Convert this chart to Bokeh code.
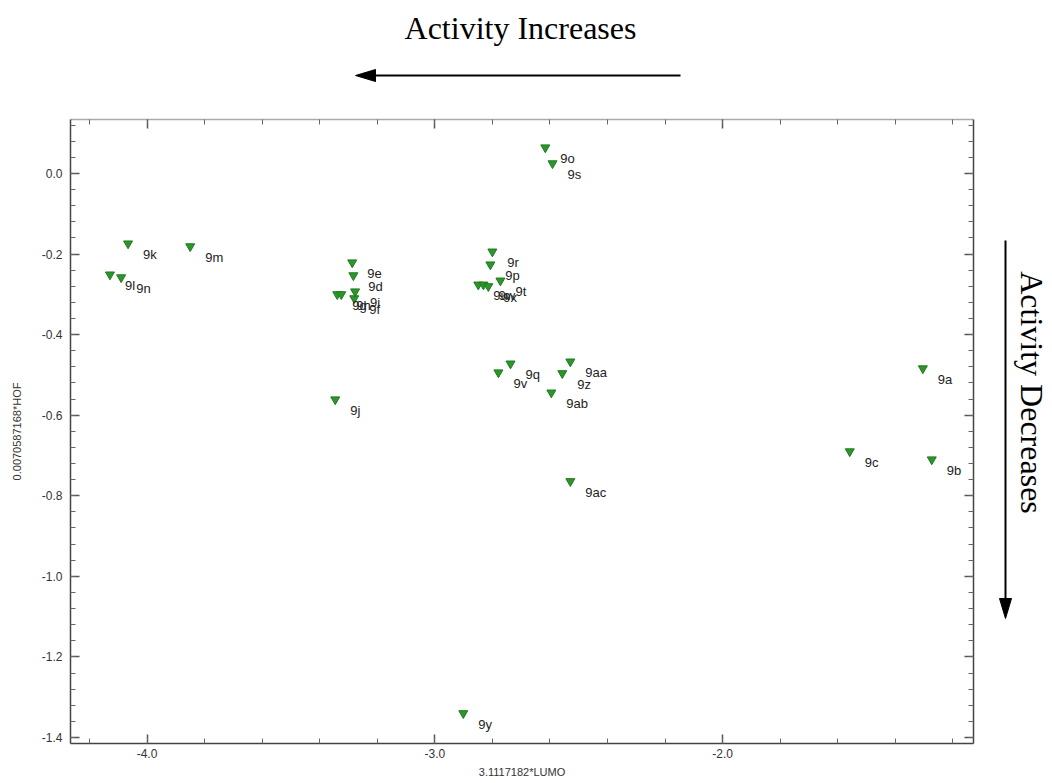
import math
import numpy as np
from bokeh.plotting import figure
from bokeh.layouts import row, column
from bokeh.models import (Range1d, LinearAxis, FixedTicker, PrintfTickFormatter,
                          CustomJSTickFormatter, ColumnDataSource)
from bokeh.core.properties import value
from bokeh.embed import file_html
from bokeh.resources import INLINE

# ---- data ----
compounds = ["9a", "9b", "9c", "9d", "9e", "9f", "9g", "9h", "9i", "9j",
             "9k", "9l", "9m", "9n", "9o", "9p", "9q", "9r", "9s", "9t",
             "9u", "9v", "9w", "9x", "9y", "9z", "9aa", "9ab", "9ac"]
lumo_term = [-1.304, -1.273, -1.558, -3.283, -3.287, -3.280, -3.339, -3.325, -3.277, -3.346,
             -4.066, -4.129, -3.850, -4.090, -2.616, -2.807, -2.737, -2.800, -2.591, -2.772,
             -2.849, -2.779, -2.831, -2.814, -2.901, -2.557, -2.529, -2.595, -2.529]
hof_term = [-0.484, -0.710, -0.690, -0.253, -0.221, -0.310, -0.300, -0.300, -0.293, -0.561,
            -0.174, -0.251, -0.181, -0.258, 0.0645, -0.226, -0.472, -0.194, 0.025, -0.266,
            -0.276, -0.494, -0.276, -0.280, -1.340, -0.496, -0.467, -0.544, -0.764]

x_ticks = [-4.0, -3.0, -2.0]
y_ticks = [-1.4, -1.2, -1.0, -0.8, -0.6, -0.4, -0.2, 0.0]
x_label = "3.1117182*LUMO"
y_label = "0.0070587168*HOF"
note_top = "Activity Increases"
note_right = "Activity Decreases"

x_minor = [round(v, 2) for v in np.arange(-4.2, -1.1, 0.2)]
y_minor = [round(v, 2) for v in np.arange(-1.40, 0.14, 0.04)]

sans = "Liberation Sans"
serif = "Liberation Serif"

TOTAL_W = 1050
TOP_H = 110
MAIN_W = 980
MAIN_H = 671
B_LEFT, B_RIGHT, B_TOP, B_BOTTOM = 70, 7, 9, 38


def blank_fig(width, height, x0, x1, y_top, y_bottom, bt=0, bb=0):
    f = figure(width=width, height=height, output_backend="svg", toolbar_location=None,
               x_range=Range1d(x0, x1), y_range=Range1d(y_bottom, y_top),
               x_axis_location=None, y_axis_location=None,
               min_border=0, min_border_left=0, min_border_right=0,
               min_border_top=bt, min_border_bottom=bb)
    f.grid.visible = False
    f.outline_line_color = None
    f.background_fill_color = "white"
    f.border_fill_color = "white"
    return f


def draw_arrow(f, x0, y0, x1, y1, length=20, half=6):
    d = np.array([x1 - x0, y1 - y0], dtype=float)
    d /= np.hypot(*d)
    n = np.array([-d[1], d[0]])
    tip = np.array([x1, y1], dtype=float)
    base = tip - d * length
    f.segment(x0=[x0], y0=[y0], x1=[base[0]], y1=[base[1]], line_color="black", line_width=2)
    pts = [tip, base + n * half, base - n * half]
    f.patch(x=[q[0] for q in pts], y=[q[1] for q in pts], fill_color="black", line_color="black")


# ---- top strip: "Activity Increases" with left arrow ----
top_fig = blank_fig(TOTAL_W, TOP_H, 0, TOTAL_W, 0, TOP_H)
top_fig.text(x=[520], y=[27], text=[note_top], text_font=value(serif), text_font_size="32px",
             text_color="black", text_align="center", text_baseline="middle")
draw_arrow(top_fig, 680, 75, 355, 75)

# ---- main scatter plot ----
src = ColumnDataSource(dict(x=lumo_term, y=hof_term, name=compounds))

p_main = figure(width=MAIN_W, height=MAIN_H, output_backend="svg", toolbar_location=None,
                x_range=Range1d(-4.266, -1.128), y_range=Range1d(-1.415, 0.134),
                x_axis_location=None, y_axis_location=None,
                min_border_left=B_LEFT, min_border_right=B_RIGHT,
                min_border_top=B_TOP, min_border_bottom=B_BOTTOM)
p_main.grid.visible = False
p_main.outline_line_color = None
p_main.background_fill_color = "white"
p_main.border_fill_color = "white"


def make_axis(ticks, minor, show, line_color):
    if show:
        fmt = PrintfTickFormatter(format="%.1f")
    else:
        fmt = CustomJSTickFormatter(code="return '';")
    ax = LinearAxis(ticker=FixedTicker(ticks=ticks, minor_ticks=minor), formatter=fmt)
    ax.major_tick_in = 9
    ax.major_tick_out = 0
    ax.minor_tick_in = 5
    ax.minor_tick_out = 0
    ax.axis_line_color = line_color
    ax.axis_line_width = 1.5
    ax.major_tick_line_color = "#555555"
    ax.minor_tick_line_color = "#666666"
    ax.major_tick_line_width = 1.5
    ax.minor_tick_line_width = 1
    ax.major_label_text_font = sans
    ax.major_label_text_font_size = "12px"
    ax.major_label_text_color = "#333333"
    if not show:
        ax.major_label_standoff = 0
    return ax


bottom = make_axis(x_ticks, x_minor, True, "#444444")
bottom.major_label_standoff = 5
bottom.axis_label = x_label
bottom.axis_label_text_font = sans
bottom.axis_label_text_font_size = "11px"
bottom.axis_label_text_font_style = "normal"
bottom.axis_label_text_color = "#333333"
bottom.axis_label_standoff = 5
p_main.add_layout(bottom, "below")

left = make_axis(y_ticks, y_minor, True, "#444444")
left.major_label_standoff = 8
left.axis_label = y_label
left.axis_label_text_font = sans
left.axis_label_text_font_size = "11px"
left.axis_label_text_font_style = "normal"
left.axis_label_text_color = "#333333"
left.axis_label_standoff = 16
p_main.add_layout(left, "left")

p_main.add_layout(make_axis(x_ticks, x_minor, False, "#aaaaaa"), "above")
p_main.add_layout(make_axis(y_ticks, y_minor, False, "#444444"), "right")

p_main.scatter("x", "y", source=src, marker="inverted_triangle", size=9,
               fill_color="#2c962c", line_color="#1f7a1f", line_width=1)
p_main.text("x", "y", text="name", source=src, x_offset=15, y_offset=11,
            text_font=value(sans), text_font_size="13px", text_color="#222222",
            text_align="left", text_baseline="middle")

# ---- right strip: "Activity Decreases" with down arrow ----
# its frame shares the main frame's vertical extent (page y 119..743)
frame_top = TOP_H + B_TOP
frame_bottom = TOP_H + MAIN_H - B_BOTTOM
right_fig = blank_fig(TOTAL_W - MAIN_W, MAIN_H, MAIN_W, TOTAL_W, frame_top, frame_bottom,
                      bt=B_TOP, bb=B_BOTTOM)
right_fig.text(x=[1031], y=[392], text=[note_right], text_font=value(serif), text_font_size="32px",
               text_color="black", text_align="center", text_baseline="middle",
               angle=-math.pi / 2)
draw_arrow(right_fig, 1005, 240, 1005, 618)

p = column(top_fig, row(p_main, right_fig, spacing=0), spacing=0)

open("out.html", "w").write(file_html(p, INLINE))
